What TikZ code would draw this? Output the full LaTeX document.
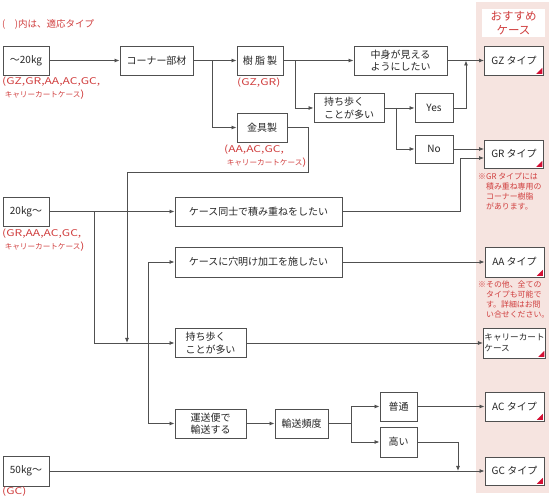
\documentclass[tikz,border=0pt]{standalone}
\usepackage{fontspec}
\setmainfont{Noto Sans CJK JP}
\usetikzlibrary{arrows.meta}

\definecolor{notered}{RGB}{208,62,62}
\definecolor{colpink}{RGB}{246,228,224}
\definecolor{linegray}{RGB}{80,80,80}
\definecolor{tipred}{RGB}{212,16,52}
\newcommand{\widelat}[1]{{\fontsize{9.3}{12.5}\selectfont\addfontfeature{FakeStretch=1.3}#1}}

\begin{document}
\begin{tikzpicture}[x=1pt, y=-1pt,
    box/.style={draw=linegray, line width=0.9pt, fill=white, text=black!85, inner sep=1pt,
      minimum height=29pt, align=center, font=\fontsize{10}{12.5}\selectfont},
    pick/.style={box, minimum width=59pt, path picture={
        \fill[tipred] ([shift={(-1.2pt,1.2pt)}]path picture bounding box.south east)
          -- ++(-6pt,0pt) -- ++(6pt,6pt) -- cycle;}},
    note/.style={text=notered, inner sep=0pt, anchor=north west, align=left,
      font=\fontsize{7.6}{12.5}\selectfont},
    smallnote/.style={note, font=\fontsize{7.9}{10}\selectfont},
    link/.style={draw=linegray, line width=0.8pt},
    go/.style={link, -{Latex[length=5pt, width=4pt]}}
  ]
    \useasboundingbox (0,0) rectangle (550,500);
    \fill[colpink] (476,2) rectangle (549,493);
    \node[fill=white, minimum width=63pt, minimum height=28pt, inner sep=0pt, text=notered,
      align=center, font=\fontsize{11.5}{14}\selectfont] (head) at (513.5,23) {おすすめ\\ケース};

    \node[note, anchor=west, font=\fontsize{9.5}{11}\selectfont] (legend) at (2,24) {(　)内は、適応タイプ};

    \node[box, minimum width=46pt] (w20) at (26,60.5) {～20kg};
    \node[box, minimum width=73pt] (corner) at (156.5,60.5) {コーナー部材};
    \node[box, minimum width=46pt] (resin) at (260,60.5) {樹 脂 製};
    \node[box, minimum width=50pt] (metal) at (262,127.5) {金具製};
    \node[box, minimum width=93pt] (see) at (400.5,60.5) {中身が見える\\ようにしたい};
    \node[box, minimum width=70pt, align=left] (carry1) at (349,108) {持ち歩く\\ことが多い};
    \node[box, minimum width=38pt] (yes) at (434,108) {Yes};
    \node[box, minimum width=38pt, minimum height=28pt] (no) at (434,149) {No};

    \node[box, minimum width=46pt] (w20p) at (26,211.5) {20kg～};
    \node[box, minimum width=167pt] (stack) at (258.5,211.5) {ケース同士で積み重ねをしたい};
    \node[box, minimum width=167pt, minimum height=30pt] (hole) at (258.5,262) {ケースに穴明け加工を施したい};
    \node[box, minimum width=71pt, align=left] (carry2) at (210.5,343) {持ち歩く\\ことが多い};
    \node[box, minimum width=71pt] (ship) at (210.5,423.5) {運送便で\\輸送する};
    \node[box, minimum width=53pt] (freq) at (301.5,423.5) {輸送頻度};
    \node[box, minimum width=37pt] (normal) at (398.5,406.5) {普通};
    \node[box, minimum width=37pt, minimum height=30pt] (high) at (398.5,442) {高い};
    \node[box, minimum width=46pt, minimum height=30pt] (w50) at (26,471) {50kg～};

    \node[pick] (GZ) at (514,60.5) {GZ タイプ};
    \node[pick, minimum height=28pt] (GR) at (514,154) {GR タイプ};
    \node[pick, minimum height=30pt] (AA) at (514.5,262) {AA タイプ};
    \node[pick, minimum height=30pt, align=left, font=\fontsize{8.6}{11}\selectfont] (cart) at (514.5,343) {キャリーカート\\ケース};
    \node[pick] (AC) at (514.5,406.5) {AC タイプ};
    \node[pick, minimum height=28pt] (GC) at (514.5,471) {GC タイプ};

    \node[note] (w20note) at (2,77) {\widelat{(GZ,GR,AA,AC,GC,}\\\hphantom{(}キャリーカートケース\widelat{)}};
    \node[note] (resinnote) at (237,78) {\widelat{(GZ,GR)}};
    \node[note] (metalnote) at (224,145) {\widelat{(AA,AC,GC,}\\\hphantom{(}キャリーカートケース\widelat{)}};
    \node[note] (w20pnote) at (2,229) {\widelat{(GR,AA,AC,GC,}\\\hphantom{(}キャリーカートケース\widelat{)}};
    \node[note] (w50note) at (2,487) {\widelat{(GC)}};
    \node[smallnote] (grnote) at (478,173) {※GR タイプには\\\hphantom{※}積み重ね専用の\\\hphantom{※}コーナー樹脂\\\hphantom{※}があります。};
    \node[smallnote] (aanote) at (478,281) {※その他、全ての\\\hphantom{※}タイプも可能で\\\hphantom{※}す。詳細はお問\\\hphantom{※}い合せください。};

    \coordinate (j1) at (212,60.5);
    \coordinate (j2) at (295,60.5);
    \coordinate (j3) at (396,108);
    \coordinate (j4) at (466,60.5);
    \coordinate (j5) at (460,158);
    \coordinate (m1) at (308,172);
    \coordinate (mend) at (127,343);
    \coordinate (j6) at (94,211.5);
    \coordinate (j7) at (148,343);
    \coordinate (j8) at (351,423.5);
    \coordinate (j9) at (458,471);

    \draw[go] (w20) -- (corner);
    \draw[go] (corner) -- (resin);
    \draw[go] (j1) |- (metal);
    \draw[go] (resin) -- (see);
    \draw[go] (j2) |- (carry1);
    \draw[go] (see) -- (GZ);
    \draw[go] (carry1) -- (yes);
    \draw[go] (j3) |- (no);
    \draw[go] (yes.east) -| (j4);
    \draw[go] (no.east) -- (no.east -| GR.west);
    \draw[go] (metal.east) -| (m1) -| (mend);

    \draw[go] (w20p) -- (stack);
    \draw[go] (stack.east) -| (j5) -- (j5 -| GR.west);
    \draw[go] (j6) |- (carry2);
    \draw[go] (carry2) -- (cart);
    \draw[go] (j7) |- (hole);
    \draw[go] (j7) |- (ship);
    \draw[go] (hole) -- (AA);
    \draw[go] (ship) -- (freq);
    \draw[link] (freq) -- (j8);
    \draw[go] (j8) |- (normal);
    \draw[go] (j8) |- (high);
    \draw[go] (normal) -- (AC);
    \draw[go] (high.east) -| (j9);
    \draw[go] (w50) -- (GC);
\end{tikzpicture}
\end{document}
